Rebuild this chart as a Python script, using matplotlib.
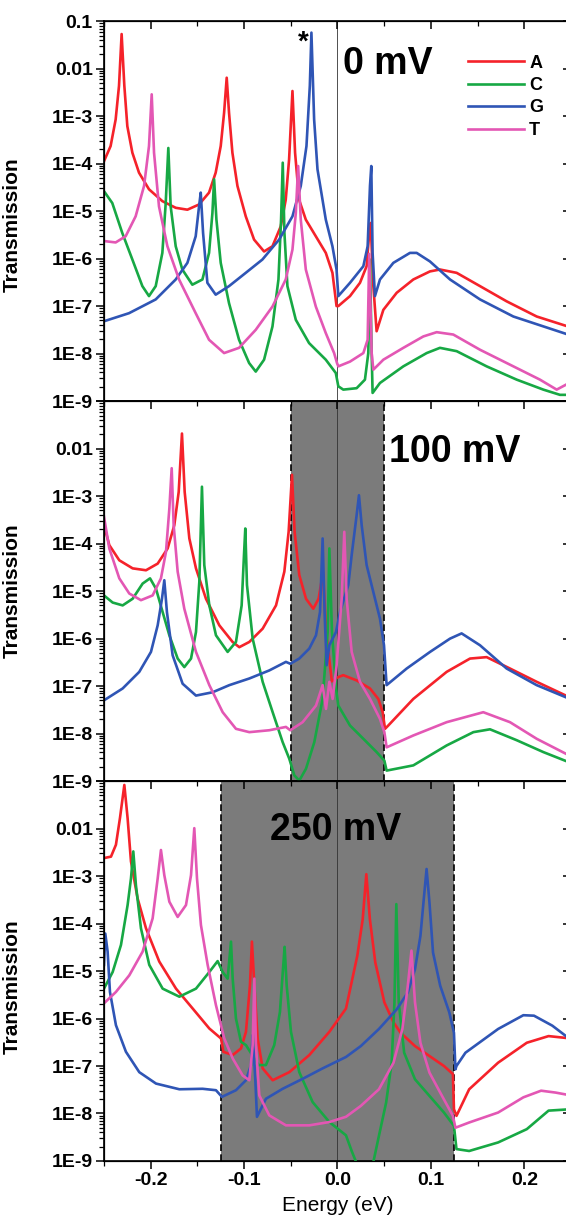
import numpy as np
import matplotlib
matplotlib.use('Agg')
import matplotlib.pyplot as plt
from matplotlib.ticker import FixedLocator, FixedFormatter, LogLocator, NullFormatter, MultipleLocator

plt.rcParams['font.family'] = ['Liberation Sans', 'DejaVu Sans']

# each curve: (energy in eV, log10 of transmission)
# ---- 0 mV ----
c0_A = [(-0.25, -3.95), (-0.2429, -3.63), (-0.2375, -3.07), (-0.2339, -2.36), (-0.2311, -1.27), (-0.2282, -2.36),
        (-0.225, -3.21), (-0.2196, -3.77), (-0.2125, -4.19), (-0.2018, -4.54), (-0.1875, -4.79), (-0.1732, -4.93),
        (-0.1607, -4.97), (-0.1482, -4.86), (-0.1375, -4.61), (-0.1304, -4.19), (-0.125, -3.63), (-0.1214, -2.93),
        (-0.1186, -2.19), (-0.1161, -2.93), (-0.1125, -3.77), (-0.1071, -4.47), (-0.0982, -5.11), (-0.0893, -5.6),
        (-0.0786, -5.85), (-0.0696, -5.74), (-0.0607, -5.32), (-0.0554, -4.76), (-0.0518, -3.91), (-0.0482, -2.47),
        (-0.0454, -3.77), (-0.0411, -4.76), (-0.0339, -5.18), (-0.0232, -5.53), (-0.0125, -5.88), (-0.0054, -6.3),
        (-0.001, -7.0), (0.0009, -7.0), (0.0134, -6.79), (0.0241, -6.51), (0.0312, -6.16), (0.034, -5.46),
        (0.0355, -5.25), (0.0384, -6.58), (0.0419, -7.53), (0.0491, -7.08), (0.0634, -6.72), (0.0812, -6.44),
        (0.099, -6.27), (0.1097, -6.23), (0.1276, -6.3), (0.1526, -6.58), (0.1811, -6.9), (0.2133, -7.22),
        (0.25, -7.45)]
c0_C = [(-0.25, -4.58), (-0.2411, -4.83), (-0.2304, -5.46), (-0.2196, -6.02), (-0.2089, -6.58), (-0.2018, -6.79),
        (-0.1946, -6.58), (-0.1875, -5.88), (-0.1839, -4.83), (-0.1811, -3.67), (-0.1786, -4.9), (-0.1732, -5.74),
        (-0.1661, -6.23), (-0.1554, -6.55), (-0.1446, -6.44), (-0.1375, -5.88), (-0.1339, -5.04), (-0.1321, -4.33),
        (-0.1296, -5.18), (-0.125, -6.09), (-0.1161, -6.94), (-0.1054, -7.71), (-0.0946, -8.2), (-0.0875, -8.38),
        (-0.0786, -8.13), (-0.0696, -7.43), (-0.0632, -6.44), (-0.0604, -5.18), (-0.0586, -3.98), (-0.0568, -5.46),
        (-0.0536, -6.58), (-0.0446, -7.29), (-0.0304, -7.78), (-0.0125, -8.13), (-0.0018, -8.41), (0.0009, -8.69),
        (0.0062, -8.76), (0.0205, -8.73), (0.0294, -8.55), (0.033, -7.99), (0.0348, -6.02), (0.0366, -7.99),
        (0.0376, -8.83), (0.0455, -8.62), (0.0705, -8.27), (0.0955, -7.99), (0.1097, -7.88), (0.1276, -7.95),
        (0.1597, -8.27), (0.1919, -8.55), (0.2204, -8.76), (0.2382, -8.87), (0.25, -8.87)]
c0_G = [(-0.25, -7.32), (-0.2232, -7.15), (-0.1946, -6.86), (-0.1732, -6.44), (-0.1607, -6.09), (-0.1518, -5.53),
        (-0.1482, -4.9), (-0.1464, -4.61), (-0.1439, -5.46), (-0.1393, -6.51), (-0.1304, -6.76), (-0.1161, -6.58),
        (-0.0982, -6.3), (-0.0804, -6.02), (-0.0625, -5.6), (-0.0482, -5.11), (-0.0393, -4.47), (-0.0332, -3.63),
        (-0.0296, -2.36), (-0.0279, -1.24), (-0.025, -3.07), (-0.0214, -4.12), (-0.0125, -5.18), (-0.0054, -5.74),
        (-0.001, -6.23), (0.0009, -6.79), (0.0134, -6.51), (0.0277, -6.16), (0.0323, -5.74), (0.0348, -4.47),
        (0.0362, -4.05), (0.0376, -5.88), (0.0401, -6.79), (0.0455, -6.44), (0.0598, -6.09), (0.0776, -5.88),
        (0.0848, -5.88), (0.099, -6.06), (0.1205, -6.44), (0.1526, -6.86), (0.1883, -7.22), (0.25, -7.62)]
c0_T = [(-0.25, -5.63), (-0.2375, -5.66), (-0.2268, -5.53), (-0.2161, -5.11), (-0.2071, -4.47), (-0.2018, -3.63),
        (-0.1989, -2.54), (-0.1964, -3.77), (-0.1911, -4.9), (-0.1821, -5.74), (-0.1696, -6.44), (-0.1518, -7.15),
        (-0.1375, -7.71), (-0.1214, -7.99), (-0.1054, -7.88), (-0.0875, -7.5), (-0.0696, -7.01), (-0.0554, -6.44),
        (-0.0482, -5.81), (-0.0446, -5.04), (-0.0421, -4.05), (-0.0393, -5.18), (-0.0339, -6.23), (-0.0232, -7.01),
        (-0.0125, -7.57), (-0.0036, -7.99), (-0.0005, -8.2), (0.0009, -8.27), (0.0134, -8.17), (0.0277, -7.99),
        (0.0323, -7.71), (0.034, -5.9), (0.0366, -7.99), (0.0384, -8.34), (0.0491, -8.13), (0.0705, -7.88),
        (0.0919, -7.64), (0.1062, -7.55), (0.124, -7.6), (0.1526, -7.92), (0.1883, -8.27), (0.2168, -8.55),
        (0.2347, -8.76), (0.25, -8.6)]

# ---- 100 mV ----
c1_A = [(-0.25, -3.61), (-0.2443, -4.03), (-0.2336, -4.35), (-0.2193, -4.52), (-0.205, -4.56), (-0.1925, -4.42),
        (-0.1818, -4.1), (-0.1747, -3.61), (-0.17, -2.91), (-0.1665, -1.68), (-0.1636, -2.91), (-0.1586, -3.89),
        (-0.1515, -4.52), (-0.1408, -5.16), (-0.1265, -5.72), (-0.1123, -6.07), (-0.1051, -6.18), (-0.0944, -6.07),
        (-0.0801, -5.79), (-0.0658, -5.3), (-0.0569, -4.59), (-0.0523, -3.75), (-0.0487, -2.55), (-0.0459, -3.75),
        (-0.0409, -4.66), (-0.0337, -5.16), (-0.0259, -5.37), (-0.0202, -5.16), (-0.0155, -4.6), (-0.012, -5.9),
        (-0.006, -6.9), (0.0009, -6.81), (0.0062, -6.77), (0.0205, -6.88), (0.0348, -7.05), (0.0437, -7.27),
        (0.0484, -7.55), (0.0509, -7.9), (0.0544, -7.83), (0.0812, -7.27), (0.1169, -6.7), (0.1419, -6.42),
        (0.1597, -6.39), (0.1847, -6.63), (0.2133, -6.91), (0.25, -7.25)]
c1_C = [(-0.25, -5.09), (-0.2407, -5.24), (-0.23, -5.3), (-0.2193, -5.16), (-0.2086, -4.84), (-0.2007, -4.73),
        (-0.1943, -4.95), (-0.1872, -5.44), (-0.18, -5.93), (-0.1711, -6.42), (-0.164, -6.6), (-0.1568, -6.42),
        (-0.1515, -5.86), (-0.1479, -4.8), (-0.1451, -2.8), (-0.1426, -4.45), (-0.1372, -5.3), (-0.1301, -5.93),
        (-0.1176, -6.28), (-0.1087, -6.07), (-0.1026, -5.3), (-0.1001, -4.24), (-0.0987, -3.68), (-0.0969, -4.87),
        (-0.0908, -6.0), (-0.0801, -6.91), (-0.0694, -7.55), (-0.0587, -8.18), (-0.0516, -8.53), (-0.0462, -8.88),
        (-0.0409, -8.99), (-0.0337, -8.74), (-0.0248, -8.18), (-0.0159, -7.27), (-0.0105, -5.86), (-0.0087, -4.1),
        (-0.0059, -5.86), (-0.0016, -7.05), (0.0009, -7.41), (0.0134, -7.83), (0.0277, -8.11), (0.0419, -8.39),
        (0.0502, -8.57), (0.0526, -8.78), (0.0812, -8.67), (0.1169, -8.25), (0.1455, -7.97), (0.1633, -7.91),
        (0.1919, -8.14), (0.2204, -8.39), (0.25, -8.62)]
c1_G = [(-0.25, -7.3), (-0.23, -7.05), (-0.2122, -6.7), (-0.1997, -6.28), (-0.1925, -5.72), (-0.1879, -5.16),
        (-0.1854, -4.77), (-0.1826, -5.44), (-0.1765, -6.35), (-0.1658, -6.95), (-0.1515, -7.2), (-0.1337, -7.13),
        (-0.1158, -6.98), (-0.0944, -6.84), (-0.073, -6.67), (-0.0552, -6.49), (-0.0505, -6.53), (-0.0409, -6.42),
        (-0.0302, -6.21), (-0.023, -5.93), (-0.0187, -5.44), (-0.0159, -3.89), (-0.0137, -5.51), (-0.0116, -6.56),
        (-0.0087, -6.14), (-0.0016, -5.86), (0.0027, -5.44), (0.0116, -4.87), (0.0152, -4.24), (0.0205, -3.4),
        (0.023, -2.98), (0.0259, -3.61), (0.0312, -4.45), (0.0384, -5.02), (0.0455, -5.58), (0.0498, -6.14),
        (0.0526, -6.98), (0.0741, -6.63), (0.0991, -6.28), (0.1205, -6.0), (0.1329, -5.89), (0.1526, -6.14),
        (0.1811, -6.63), (0.2133, -6.98), (0.25, -7.28)]
c1_T = [(-0.25, -3.43), (-0.2443, -4.1), (-0.2336, -4.73), (-0.2229, -5.05), (-0.2104, -5.19), (-0.1979, -5.09),
        (-0.189, -4.73), (-0.1836, -4.17), (-0.18, -3.26), (-0.1775, -2.41), (-0.1754, -3.61), (-0.1711, -4.59),
        (-0.164, -5.37), (-0.1515, -6.28), (-0.1372, -6.98), (-0.1229, -7.55), (-0.1087, -7.9), (-0.0944, -7.97),
        (-0.073, -7.93), (-0.0552, -7.86), (-0.0505, -7.93), (-0.0373, -7.76), (-0.023, -7.41), (-0.0159, -6.98),
        (-0.0123, -7.48), (-0.0087, -6.91), (-0.0052, -7.27), (-0.0009, -6.56), (0.0045, -5.16), (0.0073, -3.75),
        (0.0098, -5.16), (0.0152, -6.28), (0.0241, -6.91), (0.0348, -7.27), (0.0455, -7.69), (0.0502, -7.97),
        (0.0526, -8.29), (0.0812, -8.04), (0.1169, -7.76), (0.1561, -7.55), (0.1847, -7.76), (0.2133, -8.11),
        (0.25, -8.48)]

# ---- 250 mV ----
c2_A = [(-0.25, -2.62), (-0.2425, -2.59), (-0.2372, -2.34), (-0.2329, -1.78), (-0.2282, -1.08), (-0.2247, -1.78),
        (-0.2211, -2.69), (-0.214, -3.47), (-0.205, -4.1), (-0.1908, -4.8), (-0.1729, -5.37), (-0.155, -5.79),
        (-0.1372, -6.21), (-0.1247, -6.42), (-0.1222, -6.7), (-0.1122, -6.77), (-0.1033, -6.63), (-0.098, -6.28),
        (-0.0937, -5.3), (-0.0916, -4.38), (-0.089, -5.3), (-0.0855, -6.42), (-0.0801, -7.05), (-0.0694, -7.3),
        (-0.0516, -7.13), (-0.0302, -6.77), (-0.0087, -6.28), (0.0091, -5.79), (0.0212, -4.68), (0.027, -3.91),
        (0.0309, -2.96), (0.0347, -3.91), (0.0405, -4.82), (0.0502, -5.66), (0.06, -6.08), (0.0676, -6.3),
        (0.083, -6.58), (0.0985, -6.79), (0.114, -7.0), (0.1236, -7.17), (0.1247, -7.91), (0.1274, -8.05),
        (0.141, -7.49), (0.172, -6.93), (0.2027, -6.51), (0.226, -6.37), (0.25, -6.42)]
c2_C = [(-0.25, -5.37), (-0.2407, -5.02), (-0.2318, -4.45), (-0.2247, -3.61), (-0.2211, -3.05), (-0.2186, -2.48),
        (-0.2158, -3.19), (-0.2104, -4.1), (-0.2015, -4.87), (-0.1872, -5.37), (-0.1693, -5.54), (-0.1515, -5.37),
        (-0.1372, -5.02), (-0.1283, -4.79), (-0.1229, -5.02), (-0.1176, -5.16), (-0.114, -4.38), (-0.1122, -5.16),
        (-0.1087, -6.0), (-0.1033, -6.49), (-0.098, -6.56), (-0.0845, -6.98), (-0.0766, -6.98), (-0.0677, -6.56),
        (-0.0616, -5.86), (-0.058, -4.87), (-0.0566, -4.49), (-0.0544, -5.3), (-0.0498, -6.28), (-0.0409, -7.13),
        (-0.0266, -7.76), (-0.0087, -8.18), (0.0091, -8.46), (0.0154, -8.8), (0.0232, -9.18), (0.03, -9.5),
        (0.0367, -9.18), (0.0444, -8.47), (0.0521, -7.77), (0.058, -6.93), (0.061, -5.66), (0.063, -3.59),
        (0.0656, -5.66), (0.0714, -6.72), (0.083, -7.28), (0.0985, -7.63), (0.114, -7.98), (0.1247, -8.26),
        (0.1274, -8.75), (0.141, -8.79), (0.172, -8.61), (0.2027, -8.33), (0.226, -7.94), (0.25, -7.91)]
c2_G = [(-0.25, -4.87), (-0.2486, -4.21), (-0.2461, -4.59), (-0.2436, -5.44), (-0.2372, -6.14), (-0.2265, -6.7),
        (-0.2122, -7.13), (-0.1943, -7.37), (-0.1693, -7.49), (-0.1444, -7.48), (-0.1301, -7.51), (-0.1237, -7.65),
        (-0.1087, -7.51), (-0.098, -7.3), (-0.0926, -6.98), (-0.0908, -6.35), (-0.088, -7.27), (-0.0862, -8.07),
        (-0.0819, -7.9), (-0.0766, -7.69), (-0.0587, -7.48), (-0.0373, -7.27), (-0.0159, -7.05), (0.0091, -6.81),
        (0.025, -6.58), (0.0444, -6.22), (0.0637, -5.8), (0.0753, -5.45), (0.083, -4.96), (0.0888, -4.26),
        (0.0927, -3.42), (0.0954, -2.85), (0.0985, -3.56), (0.1023, -4.61), (0.11, -5.31), (0.1197, -5.87),
        (0.1247, -6.3), (0.1263, -7.07), (0.1274, -7.0), (0.137, -6.72), (0.172, -6.22), (0.199, -5.93),
        (0.2104, -5.94), (0.23, -6.15), (0.25, -6.45)]
c2_T = [(-0.25, -5.68), (-0.2372, -5.44), (-0.2229, -5.09), (-0.2086, -4.59), (-0.1979, -3.89), (-0.1925, -3.05),
        (-0.189, -2.45), (-0.1854, -2.98), (-0.18, -3.54), (-0.1711, -3.86), (-0.1622, -3.61), (-0.1568, -2.98),
        (-0.1533, -1.99), (-0.1504, -3.05), (-0.1462, -4.03), (-0.139, -4.87), (-0.1301, -5.72), (-0.1212, -6.42),
        (-0.1122, -6.84), (-0.1015, -7.2), (-0.0944, -7.3), (-0.0908, -6.56), (-0.089, -5.16), (-0.0873, -6.56),
        (-0.0837, -7.62), (-0.073, -8.04), (-0.0552, -8.25), (-0.0302, -8.25), (-0.0087, -8.18), (0.0091, -8.07),
        (0.025, -7.84), (0.0444, -7.49), (0.06, -6.93), (0.0695, -6.22), (0.0753, -5.31), (0.0792, -4.57),
        (0.083, -5.66), (0.0888, -6.51), (0.0985, -7.14), (0.11, -7.56), (0.1236, -8.05), (0.1263, -8.3),
        (0.141, -8.19), (0.172, -7.98), (0.199, -7.66), (0.218, -7.52), (0.2336, -7.56), (0.25, -7.62)]

bases = ['A', 'C', 'G', 'T']
colors = ['#f5222a', '#17a844', '#2f55b5', '#e357b4']
bias_labels = ['0 mV', '100 mV', '250 mV']
bias_windows = [None, (-0.05, 0.05), (-0.125, 0.125)]
panels = [[c0_A, c0_C, c0_G, c0_T], [c1_A, c1_C, c1_G, c1_T], [c2_A, c2_C, c2_G, c2_T]]

ytick_vals = [1e-9, 1e-8, 1e-7, 1e-6, 1e-5, 1e-4, 1e-3, 1e-2, 1e-1]
ytick_txt = ['1E-9', '1E-8', '1E-7', '1E-6', '1E-5', '1E-4', '1E-3', '0.01', '0.1']
xtick_vals = [-0.2, -0.1, 0.0, 0.1, 0.2]
xtick_txt = ['-0.2', '-0.1', '0.0', '0.1', '0.2']

fig = plt.figure(figsize=(5.66, 12.2), dpi=100)
bottoms = [0.6713, 0.3598, 0.0484]
label_pos = [(0.512, 0.887), (0.611, 0.866), (0.355, 0.871)]
ylab_y = [0.464, 0.5, 0.46]

for i in range(3):
    ax = fig.add_axes([0.1837, bottoms[i], 0.8251, 0.3113])
    ax.set_yscale('log')
    ax.set_xlim(-0.25, 0.25)
    ax.set_ylim(1e-9, 1e-1)

    win = bias_windows[i]
    if win is not None:
        ax.axvspan(win[0], win[1], facecolor='#7b7b7b', edgecolor='none', zorder=0)
        for xv in win:
            ax.axvline(xv, color='black', ls=(0, (4, 2)), lw=1.2, zorder=1)
    ax.axvline(0.0, color='#333333', lw=0.6, zorder=1)

    lines = []
    for pts, c, b in zip(panels[i], colors, bases):
        e = [p[0] for p in pts]
        t = 10.0 ** np.array([p[1] for p in pts])
        ln, = ax.plot(e, t, color=c, lw=1.9, label=b, zorder=3, solid_joinstyle='round')
        lines.append(ln)

    ax.yaxis.set_major_locator(FixedLocator(ytick_vals))
    if i == 0:
        ax.yaxis.set_major_formatter(FixedFormatter(ytick_txt))
    else:
        ax.yaxis.set_major_formatter(FixedFormatter(ytick_txt[:-1] + ['']))
    ax.yaxis.set_minor_locator(LogLocator(base=10, subs=np.arange(2, 10), numticks=20))
    ax.yaxis.set_minor_formatter(NullFormatter())
    ax.xaxis.set_major_locator(FixedLocator(xtick_vals))
    ax.xaxis.set_minor_locator(MultipleLocator(0.05))
    if i == 2:
        ax.xaxis.set_major_formatter(FixedFormatter(xtick_txt))
    else:
        ax.xaxis.set_major_formatter(NullFormatter())

    ax.tick_params(which='major', direction='out', length=6, width=1.1, labelsize=14, pad=2)
    ax.tick_params(which='minor', direction='out', length=3.5, width=0.9)
    for lab in ax.get_yticklabels() + ax.get_xticklabels():
        lab.set_fontweight('bold')
    for sp in ax.spines.values():
        sp.set_linewidth(1.2)

    # mirrored ticks on top/right pointing inward
    axr = ax.twinx()
    axr.set_yscale('log')
    axr.set_ylim(1e-9, 1e-1)
    axr.yaxis.set_major_locator(FixedLocator(ytick_vals))
    axr.yaxis.set_minor_locator(LogLocator(base=10, subs=np.arange(2, 10), numticks=20))
    axr.yaxis.set_major_formatter(NullFormatter())
    axr.yaxis.set_minor_formatter(NullFormatter())
    axr.tick_params(which='major', direction='in', length=6, width=1.1)
    axr.tick_params(which='minor', direction='in', length=3.5, width=0.9)
    axt = ax.twiny()
    axt.set_xlim(-0.25, 0.25)
    axt.xaxis.set_major_locator(FixedLocator(xtick_vals))
    axt.xaxis.set_minor_locator(MultipleLocator(0.05))
    axt.xaxis.set_major_formatter(NullFormatter())
    axt.tick_params(which='major', direction='in', length=6, width=1.1)
    axt.tick_params(which='minor', direction='in', length=3.5, width=0.9)

    ax.set_ylabel('Transmission', fontsize=15, fontweight='bold')
    ax.yaxis.set_label_coords(-0.177, ylab_y[i])

    ax.text(label_pos[i][0], label_pos[i][1], bias_labels[i], transform=ax.transAxes,
            fontsize=27, fontweight='bold', ha='left', va='center', zorder=5)

    if i == 0:
        ax.text(-0.037, 10 ** -1.45, '*', fontsize=20, fontweight='bold', ha='center', va='center')
        ax.legend(handles=lines, loc='upper left', bbox_to_anchor=(0.779, 0.912), frameon=False,
                  prop={'weight': 'bold', 'size': 13}, handlelength=3.1, handletextpad=0.3,
                  labelspacing=0.3, borderpad=0, borderaxespad=0)
    if i == 2:
        ax.set_xlabel('Energy (eV)', fontsize=15, labelpad=5)

fig.savefig('out.png', dpi=100)
